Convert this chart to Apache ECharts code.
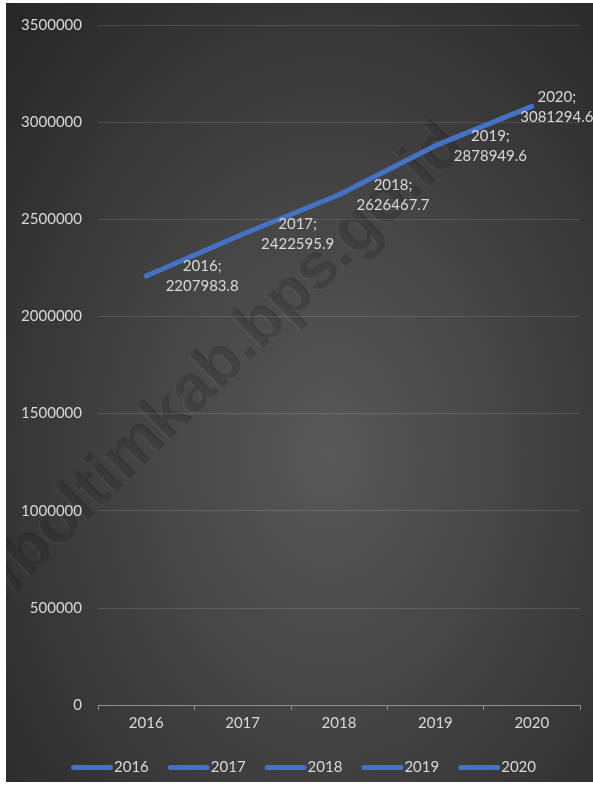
<!DOCTYPE html>
<html>
<head>
<meta charset="utf-8">
<script src="https://cdn.jsdelivr.net/npm/echarts@6/dist/echarts.min.js"></script>
<style>
  html, body { margin: 0; padding: 0; background: #fff; }
  #chart {
    position: absolute; left: 6px; top: 3px; width: 587px; height: 779px;
    background: radial-gradient(ellipse farthest-corner at 55% 58%, #585858 0%, #4a4a4a 30%, #262626 100%);
  }
</style>
</head>
<body>
<div id="chart"></div>
<script>
// data
var years = ['2016', '2017', '2018', '2019', '2020'];
var values = [2207983.8, 2422595.9, 2626467.7, 2878949.6, 3081294.6];
var yMin = 0, yMax = 3500000, yStep = 500000;

var blue = '#4472c4', textColor = '#d9d9d9', font = 'Lato';

// where each point label sits relative to its point
var labelShift = [[56, 0], [55, 0], [54, 0], [55, 0], [25, 1]];

var chart = echarts.init(document.getElementById('chart'));

var mainData = values.map(function (v, i) {
    return { value: v, label: { offset: labelShift[i] } };
});

// empty series, only so the legend lists one entry per year
var legendSeries = years.map(function (y) {
    return { name: y, type: 'line', data: [], color: blue, lineStyle: { color: blue } };
});

chart.setOption({
    animation: false,
    textStyle: { fontFamily: font },
    grid: { left: 92, right: 13, top: 22, bottom: 77, containLabel: false },
    graphic: [{
        type: 'text',
        z: 0,
        x: 448, y: 133,
        rotation: 0.775,
        silent: true,
        style: {
            text: 'https://boltimkab.bps.go.id',
            font: 'bold 65px "Liberation Sans"',
            fill: 'rgba(0,0,0,0.2)',
            align: 'right',
            verticalAlign: 'middle',
            textShadowColor: 'rgba(255,255,255,0.22)',
            textShadowOffsetX: -1.5,
            textShadowOffsetY: 1.5,
            textShadowBlur: 2
        }
    }],
    legend: {
        data: years,
        left: 60,
        top: 752,
        itemWidth: 42,
        itemHeight: 5,
        itemGap: 19,
        icon: 'path://M2.5,0H39.5A2.5,2.5,0,0,1,39.5,5H2.5A2.5,2.5,0,0,1,2.5,0Z',
        itemStyle: { color: blue },
        textStyle: { color: textColor, fontSize: 15, fontFamily: font, padding: [0, 0, 0, -4] }
    },
    xAxis: {
        type: 'category',
        data: years,
        boundaryGap: true,
        axisLine: { lineStyle: { color: '#8f8f8f', width: 1 } },
        axisTick: { show: true, length: 5, lineStyle: { color: '#8f8f8f' } },
        axisLabel: { color: textColor, fontSize: 15, margin: 11 },
        splitLine: { show: false }
    },
    yAxis: {
        type: 'value',
        min: yMin, max: yMax, interval: yStep,
        axisLine: { show: false },
        axisTick: { show: false },
        axisLabel: {
            color: textColor, fontSize: 15, margin: 16,
            formatter: function (v) { return String(v); }
        },
        splitLine: { lineStyle: { color: 'rgba(255,255,255,0.13)', width: 1 } }
    },
    series: [{
        name: 'PDRB',
        type: 'line',
        data: mainData,
        symbol: 'circle',
        symbolSize: 1,
        itemStyle: { color: blue },
        lineStyle: { color: blue, width: 5, cap: 'round', join: 'round' },
        label: {
            show: true,
            position: 'inside',
            align: 'center',
            verticalAlign: 'middle',
            color: textColor,
            fontSize: 15,
            lineHeight: 20,
            fontFamily: font,
            formatter: function (p) {
                return years[p.dataIndex] + ';\n' + values[p.dataIndex];
            }
        }
    }].concat(legendSeries)
});
</script>
</body>
</html>
